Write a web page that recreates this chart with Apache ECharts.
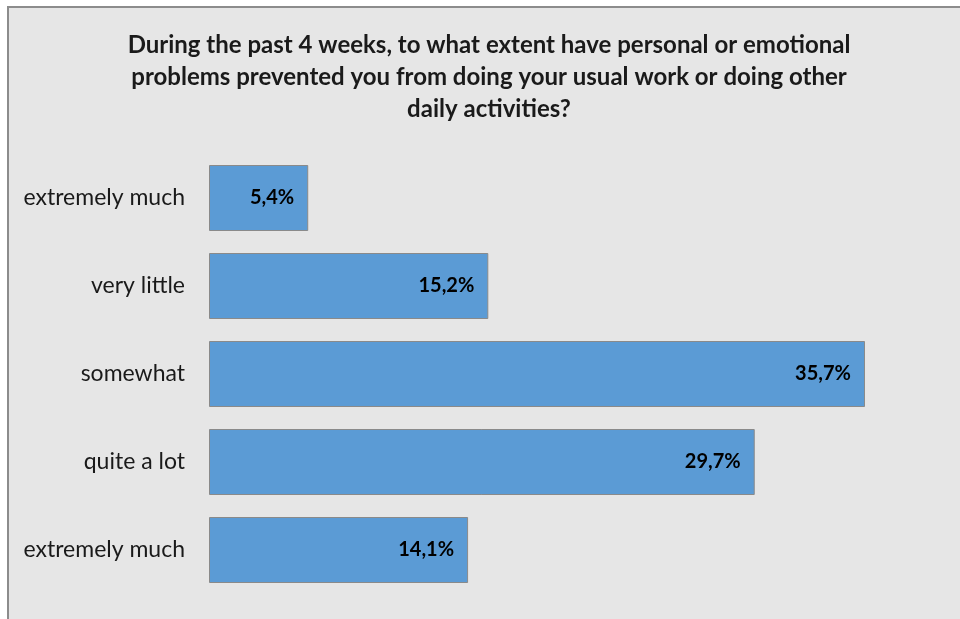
<!DOCTYPE html>
<html>
<head>
<meta charset="utf-8">
<script src="https://cdn.jsdelivr.net/npm/echarts@6/dist/echarts.min.js"></script>
<style>
  html, body { margin: 0; padding: 0; background: #ffffff; }
  #chart { width: 960px; height: 619px; }
</style>
</head>
<body>
<div id="chart"></div>
<script>
// Survey answers, top to bottom
const categories = ['extremely much', 'very little', 'somewhat', 'quite a lot', 'extremely much'];
const shares = [5.4, 15.2, 35.7, 29.7, 14.1];
const titleLines = [
  'During the past 4 weeks, to what extent have personal or emotional',
  'problems prevented you from doing your usual work or doing other',
  'daily activities?'
];

const chart = echarts.init(document.getElementById('chart'), null, { renderer: 'canvas' });

chart.setOption({
  backgroundColor: '#ffffff',
  animation: false,
  graphic: [{
    type: 'rect',
    z: -10,
    shape: { x: 8, y: 7, width: 1000, height: 700 },
    style: { fill: '#e6e6e6', stroke: '#8c8c8c', lineWidth: 2 }
  }, {
    // chart title, drawn as centred multi-line text
    type: 'text',
    x: 489,
    y: 77,
    style: {
      text: titleLines.join('\n'),
      align: 'center',
      verticalAlign: 'middle',
      fontFamily: 'Lato',
      fontWeight: 'bold',
      fontSize: 24,
      lineHeight: 32,
      fill: '#1a1a1a'
    }
  }],
  grid: { left: 209, top: 154, right: 16, bottom: 25, containLabel: false },
  xAxis: {
    type: 'value',
    min: 0,
    max: 40,
    show: false
  },
  yAxis: {
    type: 'category',
    inverse: true,
    data: categories,
    axisLine: { show: false },
    axisTick: { show: false },
    axisLabel: {
      margin: 24,
      fontFamily: 'Lato',
      fontSize: 23,
      color: '#1a1a1a'
    }
  },
  series: [{
    type: 'bar',
    data: shares,
    barWidth: 66,
    itemStyle: { color: '#5b9bd5', borderColor: '#8a8a8a', borderWidth: 1 },
    label: {
      show: true,
      position: 'insideRight',
      distance: 14,
      fontFamily: 'Lato',
      fontWeight: 'bold',
      fontSize: 20,
      color: '#000000',
      formatter: p => p.value.toFixed(1).replace('.', ',') + '%'
    }
  }]
});
</script>
</body>
</html>
